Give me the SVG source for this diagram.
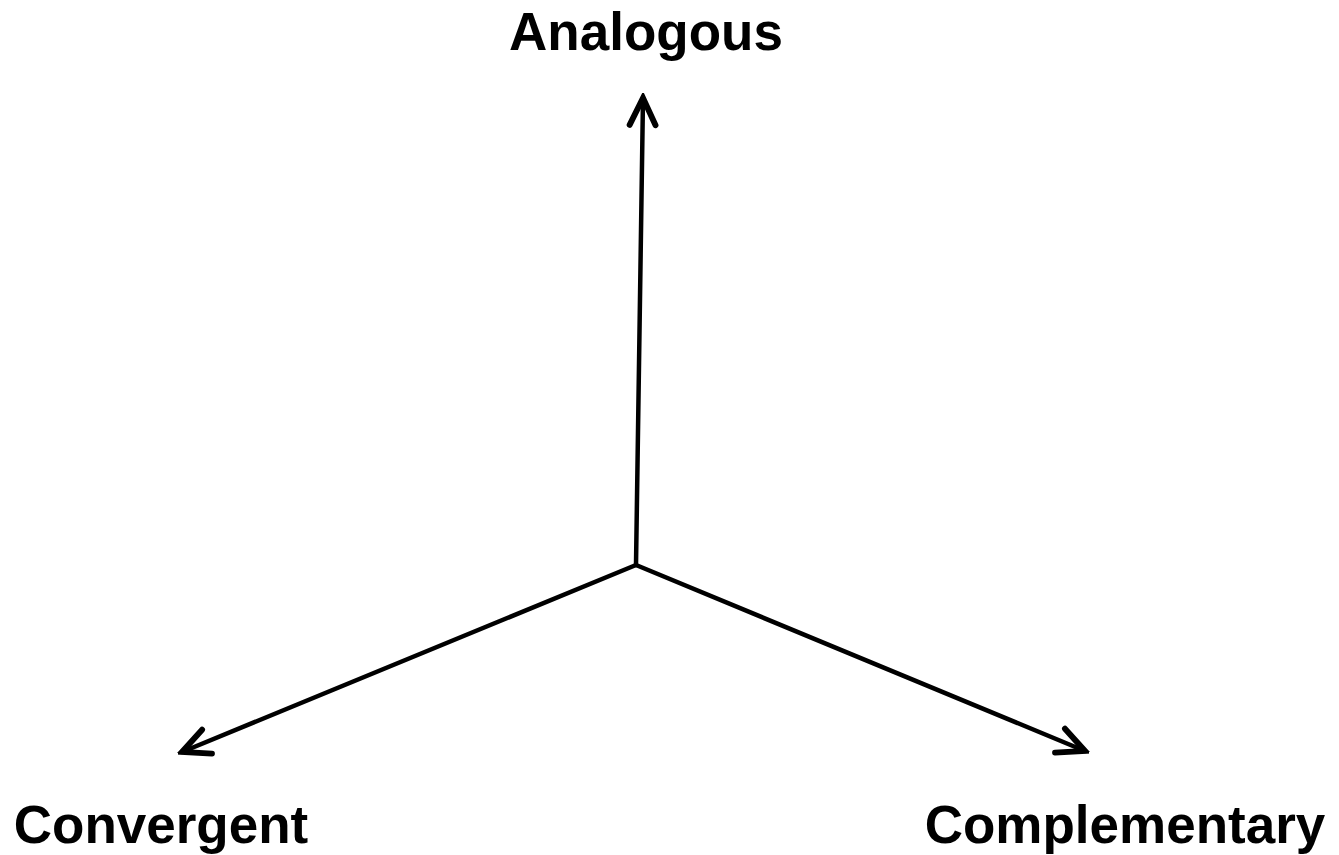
<svg xmlns="http://www.w3.org/2000/svg" width="1339" height="855" viewBox="0 0 1339 855">
<defs>
<style>
.lbl{font-family:"Liberation Sans",Arial,sans-serif;font-weight:bold;font-size:53px;fill:#000;text-anchor:middle}
.conn{stroke:#000;stroke-width:4.5;fill:none;stroke-linecap:round}
</style>
<marker id="arr" markerUnits="userSpaceOnUse" markerWidth="40" markerHeight="40" viewBox="-30 -15 34 30" refX="0" refY="0" orient="auto">
<path d="M-23,-11 L0,0 L-23,11" fill="none" stroke="#000" stroke-width="5" stroke-linecap="round" stroke-linejoin="miter"/>
</marker>
</defs>
<rect width="1339" height="855" fill="#fff"/>
<g id="connectors">
<line class="conn" x1="636" y1="565" x2="643" y2="98" marker-end="url(#arr)"/>
<line class="conn" x1="636" y1="565" x2="182" y2="752" marker-end="url(#arr)"/>
<line class="conn" x1="636" y1="565" x2="1085" y2="751" marker-end="url(#arr)"/>
</g>
<g id="analogous"><text class="lbl" x="646" y="50">Analogous</text></g>
<g id="convergent"><text class="lbl" x="161" y="843">Convergent</text></g>
<g id="complementary"><text class="lbl" x="1125" y="843">Complementary</text></g>
</svg>
